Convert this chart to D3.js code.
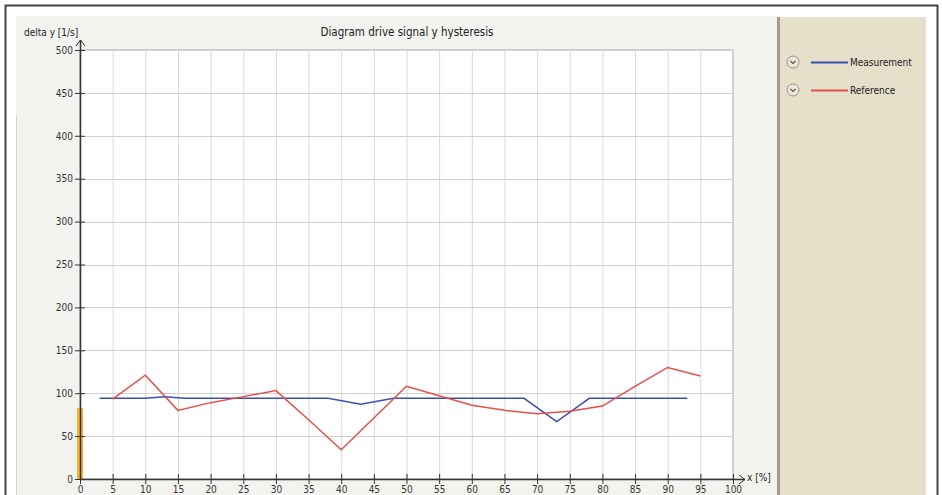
<!DOCTYPE html>
<html>
<head>
<meta charset="utf-8">
<script src="https://cdn.jsdelivr.net/npm/d3@7"></script>
<style>
  body { margin: 0; background: #fff; }
  svg { display: block; font-family: "DejaVu Sans", Verdana, sans-serif; }
</style>
</head>
<body>
<div id="Chart"></div>
<script>
// data
var measX = [3, 5, 10, 13, 16, 20, 25, 30, 35, 38, 43, 48, 55, 60, 65, 68, 73, 78, 85, 90, 93];
var measY = [94, 94, 94, 96, 94, 94, 94, 94, 94, 94, 87, 94, 94, 94, 94, 94, 67, 94, 94, 94, 94];
var refX = [5, 10, 15, 20, 25, 30, 35, 40, 45, 50, 55, 60, 65, 70, 75, 80, 85, 90, 95];
var refY = [93, 121, 80, 89, 96, 103, 69, 34, 71, 108, 97, 86, 80, 76, 79, 85, 108, 130, 120];
var xTicks = d3.range(0, 101, 5);
var yTicks = d3.range(0, 501, 50);
var seriesNames = ["Measurement", "Reference"];
var seriesColors = ["#3b4fb0", "#e3504a"];

var svgWidth = 942;
var svgHeight = 495;

var margin = { top: 50, left: 80 };
var width = 653;
var height = 429;

var svg = d3.select("#Chart")
  .append("svg")
  .attr("width", svgWidth)
  .attr("height", svgHeight);

// frame + panels
svg.append("rect").attr("x", 5.5).attr("y", 5.5).attr("width", 932).attr("height", 500)
  .attr("fill", "#fff").attr("stroke", "#444").attr("stroke-width", 2);
svg.append("rect").attr("x", 16).attr("y", 16).attr("width", 761).attr("height", 480)
  .attr("fill", "#f3f3ef");
svg.append("line").attr("x1", 16.5).attr("x2", 16.5).attr("y1", 115).attr("y2", 495)
  .attr("stroke", "#d4d4d0");
svg.append("rect").attr("x", 777).attr("y", 17).attr("width", 149).attr("height", 480)
  .attr("fill", "#e6dfca");
svg.append("rect").attr("x", 777).attr("y", 17).attr("width", 3).attr("height", 480)
  .attr("fill", "#a39d8d");

var chartGroup = svg.append("g")
  .attr("transform", `translate(${margin.left}, ${margin.top})`);

var x = d3.scaleLinear().domain([0, 100]).range([0, width]);
var y = d3.scaleLinear().domain([0, 500]).range([height, 0]);

chartGroup.append("rect").attr("width", width).attr("height", height)
  .attr("fill", "#fff").attr("stroke", "#a8a8a8");

// grid
chartGroup.selectAll(".vgrid").data(xTicks.slice(1, -1)).enter().append("line")
  .attr("x1", d => x(d) + 0.5).attr("x2", d => x(d) + 0.5)
  .attr("y1", 0).attr("y2", height)
  .attr("stroke", "#d8d8d8");
chartGroup.selectAll(".hgrid").data(yTicks.slice(1)).enter().append("line")
  .attr("x1", 0).attr("x2", width)
  .attr("y1", d => Math.round(y(d)) + 0.5).attr("y2", d => Math.round(y(d)) + 0.5)
  .attr("stroke", "#d0d0d0");

// orange marker on y axis
chartGroup.append("rect").attr("x", -3).attr("width", 6)
  .attr("y", y(83)).attr("height", y(0) - y(83))
  .attr("fill", "#f5b531");

// axes
var bottomAxis = d3.axisBottom(x).tickValues(xTicks).tickSize(0).tickPadding(7);
var leftAxis = d3.axisLeft(y).tickValues(yTicks).tickSize(0).tickPadding(7);

var gx = chartGroup.append("g").attr("transform", `translate(0, ${height})`).call(bottomAxis);
var gy = chartGroup.append("g").call(leftAxis);
[gx, gy].forEach(function (g) {
  g.select(".domain").remove();
  g.selectAll("text").attr("font-size", 10).attr("fill", "#333")
    .attr("font-family", "DejaVu Sans Condensed, DejaVu Sans, sans-serif");
});
gx.selectAll(".tick").append("line").attr("y1", -5).attr("y2", 5).attr("stroke", "#333");
gy.selectAll(".tick").append("line").attr("x1", -5).attr("x2", 5).attr("stroke", "#333");

chartGroup.append("line").attr("x1", 0).attr("x2", width + 12)
  .attr("y1", height + 0.5).attr("y2", height + 0.5).attr("stroke", "#333").attr("stroke-width", 1.5);
chartGroup.append("line").attr("x1", 0.5).attr("x2", 0.5)
  .attr("y1", height).attr("y2", -10).attr("stroke", "#333").attr("stroke-width", 1.5);
// arrow heads
chartGroup.append("path")
  .attr("d", `M${width + 6},${height - 4}L${width + 12},${height + 0.5}L${width + 6},${height + 5}`)
  .attr("fill", "none").attr("stroke", "#333");
chartGroup.append("path")
  .attr("d", "M-4,-4L0.5,-10L5,-4")
  .attr("fill", "none").attr("stroke", "#333");

// lines
var measData = measX.map((d, i) => [d, measY[i]]);
var refData = refX.map((d, i) => [d, refY[i]]);
var line = d3.line().x(d => x(d[0])).y(d => y(d[1]));

chartGroup.append("path").datum(measData).attr("d", line)
  .attr("fill", "none").attr("stroke", seriesColors[0]).attr("stroke-width", 1.5);
chartGroup.append("path").datum(refData).attr("d", line)
  .attr("fill", "none").attr("stroke", seriesColors[1]).attr("stroke-width", 1.5);

// texts
svg.append("text").attr("x", 407).attr("y", 36).attr("text-anchor", "middle")
  .attr("font-size", 11.5).attr("fill", "#222")
  .attr("font-family", "DejaVu Sans Condensed, DejaVu Sans, sans-serif")
  .text("Diagram drive signal y hysteresis");
svg.append("text").attr("x", 24).attr("y", 36)
  .attr("font-size", 10).attr("fill", "#222")
  .attr("font-family", "DejaVu Sans Condensed, DejaVu Sans, sans-serif")
  .text("delta y [1/s]");
svg.append("text").attr("x", margin.left + width + 14).attr("y", margin.top + height + 2)
  .attr("font-size", 10).attr("fill", "#222")
  .attr("font-family", "DejaVu Sans Condensed, DejaVu Sans, sans-serif")
  .text("x [%]");

// legend
var legend = svg.selectAll(".legend").data(seriesNames).enter().append("g")
  .attr("transform", (d, i) => `translate(793, ${62 + i * 28})`);
legend.append("circle").attr("r", 6).attr("fill", "#ece7d8").attr("stroke", "#9a9484");
legend.append("path").attr("d", "M-2.5,-1L0,1.5L2.5,-1").attr("fill", "none").attr("stroke", "#555").attr("stroke-width", 1.2);
legend.append("line").attr("x1", 18).attr("x2", 55).attr("y1", 0.5).attr("y2", 0.5)
  .attr("stroke", (d, i) => seriesColors[i]).attr("stroke-width", 2);
legend.append("text").attr("x", 57).attr("y", 4)
  .attr("font-size", 10).attr("fill", "#222")
  .attr("font-family", "DejaVu Sans Condensed, DejaVu Sans, sans-serif")
  .text(d => d);
</script>
</body>
</html>
